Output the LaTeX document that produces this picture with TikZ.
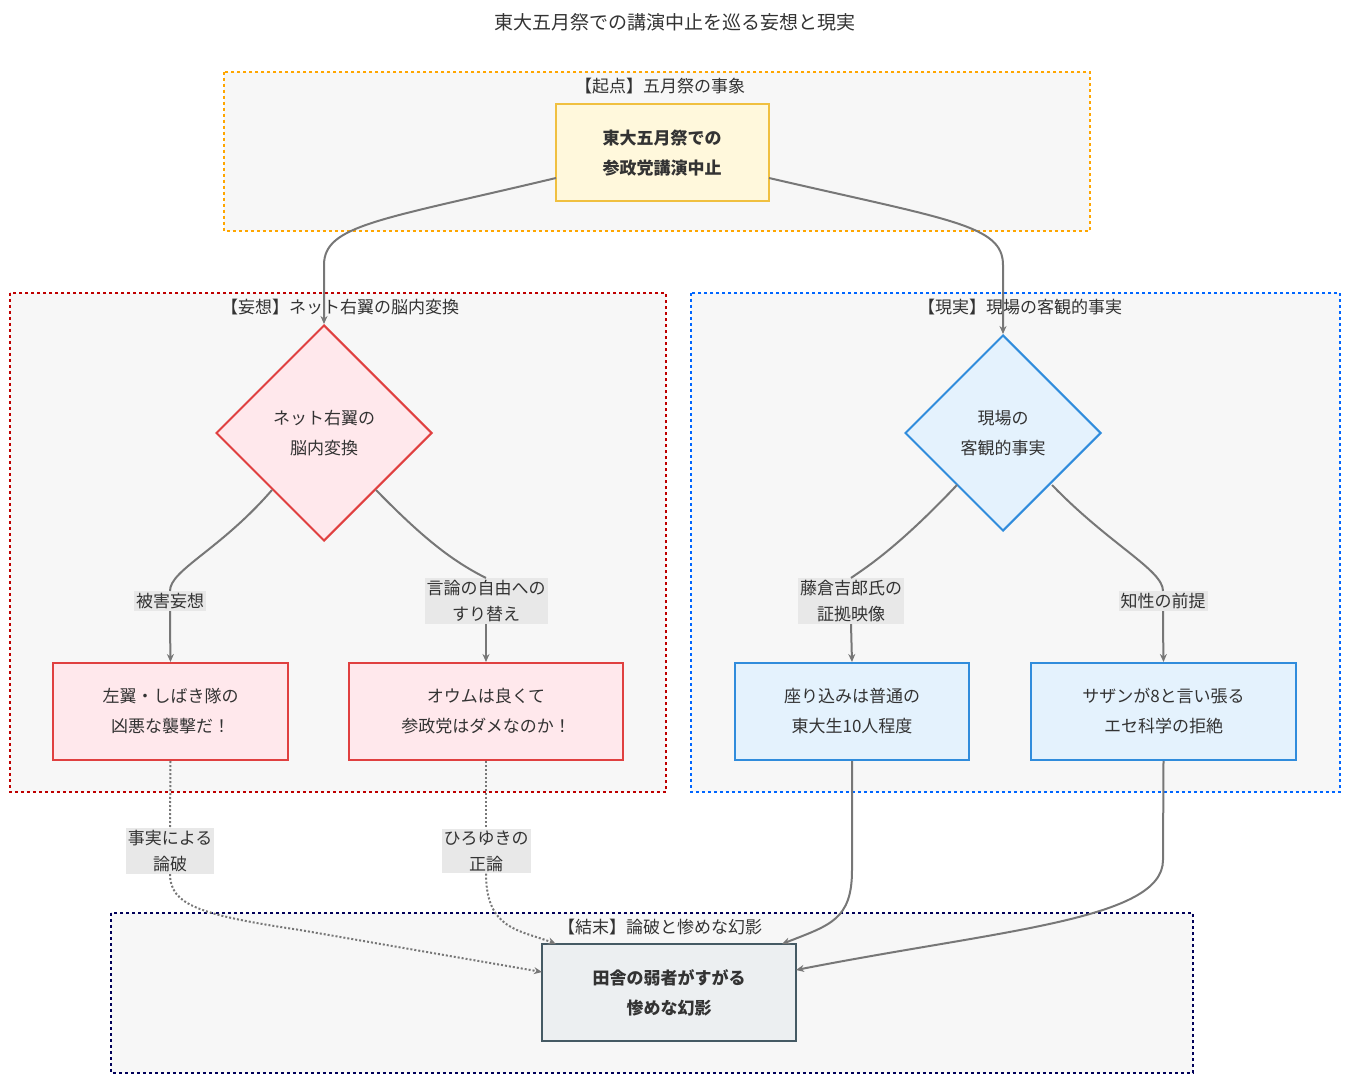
\documentclass[tikz,border=0pt]{standalone}
\usepackage{fontspec}
\setmainfont{Noto Sans CJK JP}
\usetikzlibrary{arrows.meta,shapes.geometric}
\definecolor{edge}{HTML}{777777}
\begin{document}
\begin{tikzpicture}[x=1pt,y=-1pt,
  every node/.style={font=\fontsize{17}{26}\selectfont,text=black!80},
  clus/.style={draw,dashed,line width=1.6pt,fill=black!3},
  box/.style={draw,line width=2pt,minimum width=#1,minimum height=97,align=center,inner sep=0},
  lbl/.style={fill=black!9,align=center,inner sep=2pt},
  e/.style={draw=edge,line width=2pt},
  a/.style={e,-{Stealth[length=8pt,width=7pt]}},
  d/.style={e,dotted}]
\useasboundingbox (0,0) rectangle (1350,1083);
\node (title) at (675,22) {\fontsize{19}{24}\selectfont 東大五月祭での講演中止を巡る妄想と現実};
\draw[clus,draw=orange!70!yellow] (224,72) rectangle (1090,231);
\node (c1) at (660,86) {【起点】五月祭の事象};
\draw[clus,draw=red!75!black] (10,293) rectangle (666,792);
\node (c2) at (340,307) {【妄想】ネット右翼の脳内変換};
\draw[clus,draw=blue!60!cyan] (691,293) rectangle (1340,792);
\node (c3) at (1020,307) {【現実】現場の客観的事実};
\draw[clus,draw=black!65!blue] (111,913) rectangle (1193,1073);
\node (c4) at (660,927) {【結末】論破と惨めな幻影};

\node[box=213,draw={rgb,255:red,240;green,192;blue,64},fill={rgb,255:red,255;green,248;blue,220},font=\fontsize{17}{30}\selectfont\bfseries] (A) at (662,153) {東大五月祭での\\参政党講演中止};
\node[diamond,aspect=1,minimum size=216,inner sep=0,draw={rgb,255:red,224;green,64;blue,64},line width=2pt,fill={rgb,255:red,255;green,232;blue,236},align=center,font=\fontsize{17}{30}\selectfont] (B) at (324,433) {ネット右翼の\\脳内変換};
\node[diamond,aspect=1,minimum size=196,inner sep=0,draw={rgb,255:red,48;green,140;blue,220},line width=2pt,fill={rgb,255:red,228;green,242;blue,253},align=center,font=\fontsize{17}{30}\selectfont] (C) at (1003,433) {現場の\\客観的事実};
\tikzset{rb/.style={box=#1,draw={rgb,255:red,224;green,64;blue,64},fill={rgb,255:red,255;green,232;blue,236},font=\fontsize{17}{30}\selectfont},
 bb/.style={box=#1,draw={rgb,255:red,48;green,140;blue,220},fill={rgb,255:red,228;green,242;blue,253},font=\fontsize{17}{30}\selectfont}}
\node[rb=235] (D) at (170.5,711.5) {左翼・しばき隊の\\凶悪な襲撃だ！};
\node[rb=274] (E) at (486,711.5) {オウムは良くて\\参政党はダメなのか！};
\node[bb=234] (F) at (852,711.5) {座り込みは普通の\\東大生10人程度};
\node[bb=265] (G) at (1163.5,711.5) {サザンが8と言い張る\\エセ科学の拒絶};
\node[box=254,draw={rgb,255:red,69;green,90;blue,100},fill={rgb,255:red,236;green,239;blue,241},font=\fontsize{17}{30}\selectfont\bfseries] (H) at (669,992.5) {田舎の弱者がすがる\\惨めな幻影};

\node[lbl] (l1) at (170,601) {被害妄想};
\node[lbl] (l2) at (486,601) {言論の自由への\\すり替え};
\node[lbl] (l3) at (851,601) {藤倉吉郎氏の\\証拠映像};
\node[lbl] (l4) at (1163,601) {知性の前提};
\node[lbl] (l5) at (170,851) {事実による\\論破};
\node[lbl] (l6) at (486,851) {ひろゆきの\\正論};

\coordinate (a1) at (556,178);
\coordinate (a2) at (769,178);
\draw[a] (a1) .. controls (380,220) and (324,225) .. (324,265) -- (B.north);
\draw[a] (a2) .. controls (950,220) and (1003,225) .. (1003,265) -- (C.north);
\draw[e] (272,490) .. controls (220,550) and (170,570) .. (l1.north);
\draw[a] (l1.south) .. controls (170,625) .. (D.north);
\draw[e] (376,490) .. controls (420,535) and (450,560) .. (l2.north);
\draw[a] (l2.south) -- (E.north);
\draw[e] (957,485) .. controls (900,545) and (870,565) .. (l3.north);
\draw[a] (l3.south) -- (F.north);
\draw[e] (1052,485) .. controls (1110,545) and (1163,570) .. (l4.north);
\draw[a] (l4.south) .. controls (1163,625) .. (G.north);
\draw[d] (D.south) -- (l5.north);
\draw[d,-{Stealth[length=8pt,width=7pt]}] (l5.south) .. controls (170,905) and (200,915) .. (300,930) -- (542,972);
\draw[d] (E.south) -- (l6.north);
\draw[d,-{Stealth[length=8pt,width=7pt]}] (l6.south) .. controls (486,930) and (520,930) .. (556,944);
\draw[a] (F.south) -- (852,870) .. controls (852,920) and (830,925) .. (782,944);
\draw[a] (G.south) -- (1163,860) .. controls (1163,920) and (1000,930) .. (796,970);
\end{tikzpicture}
\end{document}
